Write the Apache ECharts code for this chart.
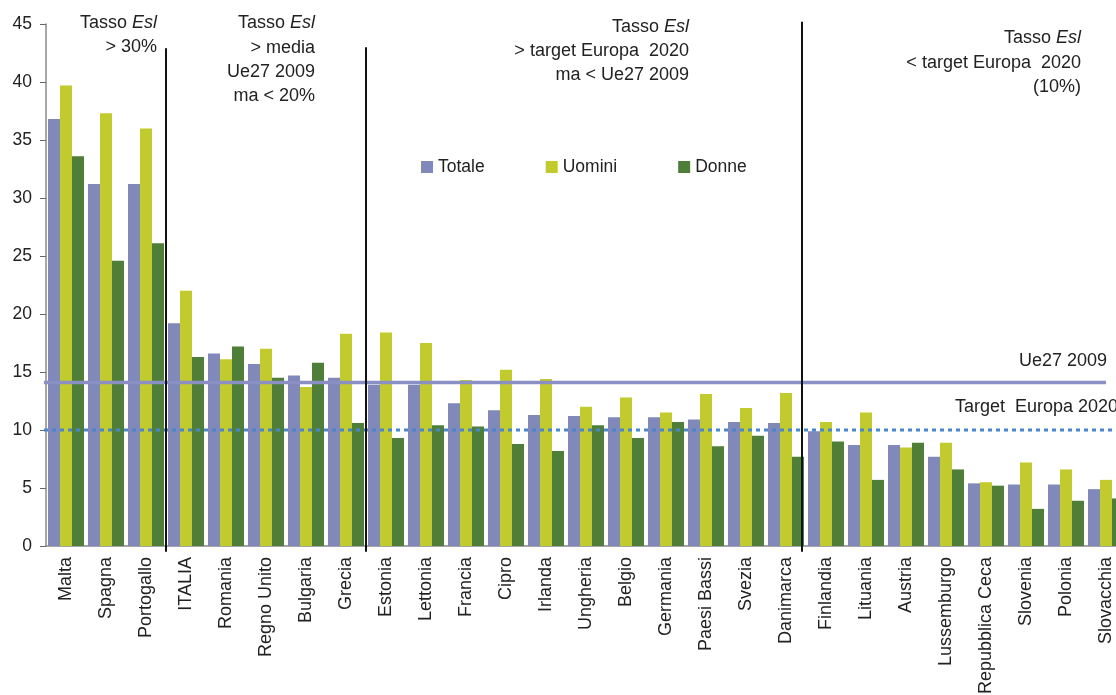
<!DOCTYPE html>
<html>
<head>
<meta charset="utf-8">
<style>
    html, body { margin: 0; padding: 0; background: #fff; }
    #chart { width: 1116px; height: 695px; }
</style>
</head>
<body>
<div id="chart"></div>
<script src="https://cdn.jsdelivr.net/npm/echarts@6/dist/echarts.min.js"></script>
<script type="text/javascript">
    // dati: tasso di abbandono scolastico (Esl) per paese
    var countries = ['Malta', 'Spagna', 'Portogallo', 'ITALIA', 'Romania', 'Regno Unito', 'Bulgaria', 'Grecia',
        'Estonia', 'Lettonia', 'Francia', 'Cipro', 'Irlanda', 'Ungheria', 'Belgio', 'Germania', 'Paesi Bassi',
        'Svezia', 'Danimarca', 'Finlandia', 'Lituania', 'Austria', 'Lussemburgo', 'Repubblica Ceca',
        'Slovenia', 'Polonia', 'Slovacchia'];
    var totale = [36.8, 31.2, 31.2, 19.2, 16.6, 15.7, 14.7, 14.5, 13.9, 13.9, 12.3, 11.7, 11.3, 11.2, 11.1, 11.1,
        10.9, 10.7, 10.6, 9.9, 8.7, 8.7, 7.7, 5.4, 5.3, 5.3, 4.9];
    var uomini = [39.7, 37.3, 36.0, 22.0, 16.1, 17.0, 13.7, 18.3, 18.4, 17.5, 14.3, 15.2, 14.4, 12.0, 12.8, 11.5,
        13.1, 11.9, 13.2, 10.7, 11.5, 8.5, 8.9, 5.5, 7.2, 6.6, 5.7];
    var donne = [33.6, 24.6, 26.1, 16.3, 17.2, 14.5, 15.8, 10.6, 9.3, 10.4, 10.3, 8.8, 8.2, 10.4, 9.3, 10.7,
        8.6, 9.5, 7.7, 9.0, 5.7, 8.9, 6.6, 5.2, 3.2, 3.9, 4.1];
    var seriesNames = ['Totale', 'Uomini', 'Donne'];
    var ue27 = 14.1;        // media Ue27 2009
    var target2020 = 10;    // target Europa 2020
    // separatori tra i gruppi (in unita' di categoria) e loro altezza
    var sepX = [3, 8, 18.9];
    var sepTop = [42.9, 43, 45.2];

    var FONT = '"Liberation Sans", Arial, sans-serif';
    var chart = echarts.init(document.getElementById('chart'));

    //testo a destra, riga per riga
    function note(right, tops, lines) {
        return lines.map(function (t, i) {
            return {
                type: 'text',
                right: right,
                top: tops[i],
                silent: true,
                style: {
                    text: t,
                    font: '18px ' + FONT,
                    fill: '#222',
                    textAlign: 'right',
                    rich: { i: { fontStyle: 'italic', fontSize: 18, fontFamily: FONT, fill: '#222' } }
                }
            };
        });
    }

    // linee: [x1, y1, x2, y2, tipo]  tipo 0 = Ue27, 1 = target, 2 = separatore
    var lines = [
        [-0.05, ue27, 26.5, ue27, 0],
        [-0.05, target2020, 27.5, target2020, 1]
    ];
    sepX.forEach(function (x, i) {
        lines.push([x, sepTop[i], x, -0.5, 2]);
    });
    var lineStyles = [
        { stroke: '#8b90c4', lineWidth: 3.5 },
        { stroke: '#4a86c8', lineWidth: 3, lineDash: [4, 4] },
        { stroke: '#111', lineWidth: 2 }
    ];

    var graphics = []
        .concat(note(1116 - 157, [14, 38], ['Tasso {i|Esl}', '> 30%']))
        .concat(note(1116 - 315, [14, 39, 63, 87], ['Tasso {i|Esl}', '> media', 'Ue27 2009', 'ma < 20%']))
        .concat(note(1116 - 689, [18, 42, 66], ['Tasso {i|Esl}', '> target Europa  2020', 'ma < Ue27 2009']))
        .concat(note(1116 - 1081, [29, 54, 78], ['Tasso {i|Esl}', '< target Europa  2020', '(10%)']))
        .concat(note(1116 - 1107, [352], ['Ue27 2009']))
        .concat([{
            type: 'text', left: 955, top: 398, silent: true,
            style: { text: 'Target  Europa 2020', font: '18px ' + FONT, fill: '#222' }
        }]);

    chart.setOption({
        animation: false,
        textStyle: { fontFamily: FONT },
        color: ['#8089b9', '#c2cb2e', '#4f7e39'],
        legend: {
            data: seriesNames,
            left: 416,
            top: 153,
            icon: 'rect',
            itemWidth: 12,
            itemHeight: 12,
            itemGap: 61,
            textStyle: { fontSize: 17.5, color: '#222', fontFamily: FONT }
        },
        grid: { left: 46, top: 24, width: 1080, height: 522, outerBoundsMode: 'none', containLabel: false },
        xAxis: [{
            type: 'category',
            data: countries,
            axisLine: { lineStyle: { color: '#888', width: 1.5 } },
            axisTick: { length: 6, interval: 0, lineStyle: { color: '#666' } },
            axisLabel: { rotate: 90, interval: 0, fontSize: 18, color: '#222', margin: 11 }
        }, {
            type: 'value', min: 0, max: 27, show: false
        }],
        yAxis: {
            type: 'value',
            min: 0,
            max: 45,
            interval: 5,
            axisLine: { show: true, lineStyle: { color: '#888', width: 1.5 } },
            axisTick: { show: true, length: 6, lineStyle: { color: '#666' } },
            axisLabel: { fontSize: 17.5, color: '#222', margin: 14 },
            splitLine: { show: false }
        },
        graphic: graphics,
        series: [
            { name: 'Totale', type: 'bar', data: totale, barGap: '0%', barCategoryGap: '10%' },
            { name: 'Uomini', type: 'bar', data: uomini, barGap: '0%', barCategoryGap: '10%' },
            { name: 'Donne', type: 'bar', data: donne, barGap: '0%', barCategoryGap: '10%' },
            {
                name: 'linee',
                type: 'custom',
                xAxisIndex: 1,
                silent: true,
                clip: false,
                z: 5,
                data: lines,
                renderItem: function (params, api) {
                    var p1 = api.coord([api.value(0), api.value(1)]);
                    var p2 = api.coord([api.value(2), api.value(3)]);
                    return {
                        type: 'line',
                        shape: { x1: p1[0], y1: p1[1], x2: p2[0], y2: p2[1] },
                        style: lineStyles[api.value(4)]
                    };
                }
            }
        ]
    });
</script>
</body>
</html>
